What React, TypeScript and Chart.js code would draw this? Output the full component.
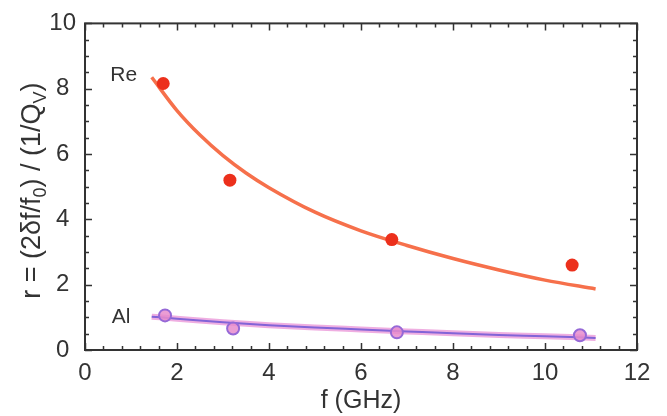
import React, { useEffect, useRef } from "react";
import { Chart, registerables } from "chart.js";
Chart.register(...registerables);

// Measured points
const reFreq = [1.7, 3.15, 6.67, 10.59];
const reRatio = [8.16, 5.2, 3.38, 2.6];
const alFreq = [1.74, 3.22, 6.78, 10.76];
const alRatio = [1.06, 0.66, 0.54, 0.45];

// Fit curves
const reFitFreq = [1.45, 2, 2.5, 3, 3.5, 4, 5, 6, 7, 8, 9, 10, 11.1];
const reFitRatio = [8.35, 7.33, 6.58, 5.95, 5.42, 4.97, 4.22, 3.65, 3.2, 2.8, 2.45, 2.14, 1.87];
const alFitFreq = [1.45, 2, 3, 4, 5, 6, 7, 8, 9, 10, 11.1];
const alFitRatio = [1.02, 0.96, 0.85, 0.76, 0.69, 0.63, 0.57, 0.51, 0.46, 0.42, 0.37];

const xTicks = [0, 2, 4, 6, 8, 10, 12];
const yTicks = [0, 2, 4, 6, 8, 10];
const xMinorStep = 0.4;
const yMinorStep = 0.5;

const seriesLabels = ["Re", "Al"];
const xTitle = "f (GHz)";

const AXIS = "#333";
const FONT = "'Liberation Sans', Arial, sans-serif";

const pts = (xs: number[], ys: number[]) => xs.map((x, i) => ({ x, y: ys[i] }));

const framePlugin = {
  id: "frame",
  afterDraw(chart: any) {
    const { ctx, chartArea: a, scales } = chart;
    const xs = scales.x, ys = scales.y;
    ctx.save();
    ctx.strokeStyle = AXIS;
    ctx.lineWidth = 2;
    ctx.strokeRect(a.left, a.top, a.right - a.left, a.bottom - a.top);
    ctx.lineWidth = 1.5;
    const major = 7, minor = 4;
    for (let v = 0; v <= 12 + 1e-6; v += xMinorStep) {
      const isMajor = xTicks.some((t) => Math.abs(t - v) < 1e-6);
      const L = isMajor ? major : minor;
      const px = Math.round(xs.getPixelForValue(v)) + 0.5;
      ctx.beginPath();
      ctx.moveTo(px, a.bottom);
      ctx.lineTo(px, a.bottom - L);
      ctx.moveTo(px, a.top);
      ctx.lineTo(px, a.top + L);
      ctx.stroke();
    }
    for (let v = 0; v <= 10 + 1e-6; v += yMinorStep) {
      const isMajor = yTicks.some((t) => Math.abs(t - v) < 1e-6);
      const L = isMajor ? major : minor;
      const py = Math.round(ys.getPixelForValue(v)) + 0.5;
      ctx.beginPath();
      ctx.moveTo(a.left, py);
      ctx.lineTo(a.left + L, py);
      ctx.moveTo(a.right, py);
      ctx.lineTo(a.right - L, py);
      ctx.stroke();
    }

    // series labels
    ctx.fillStyle = AXIS;
    ctx.font = `21px ${FONT}`;
    ctx.textBaseline = "middle";
    ctx.textAlign = "left";
    ctx.fillText(seriesLabels[0], xs.getPixelForValue(0.55), ys.getPixelForValue(8.4));
    ctx.fillText(seriesLabels[1], xs.getPixelForValue(0.58), ys.getPixelForValue(1.0));

    // y title with subscripts
    const size = 27;
    const segs: [string, boolean][] = [
      ["r = (2δf/f", false],
      ["0", true],
      [") / (1/Q", false],
      ["V", true],
      [")", false],
    ];
    const mainFont = `${size}px ${FONT}`;
    const subFont = `${Math.round(size * 0.68)}px ${FONT}`;
    let total = 0;
    for (const [t, sub] of segs) {
      ctx.font = sub ? subFont : mainFont;
      total += ctx.measureText(t).width;
    }
    ctx.translate(30, (a.top + a.bottom) / 2 + 4);
    ctx.rotate(-Math.PI / 2);
    ctx.textBaseline = "alphabetic";
    let x = -total / 2;
    const base = size * 0.36;
    for (const [t, sub] of segs) {
      ctx.font = sub ? subFont : mainFont;
      ctx.fillText(t, x, sub ? base + size * 0.25 : base);
      x += ctx.measureText(t).width;
    }
    ctx.restore();
  },
};

export default function App() {
  const ref = useRef<HTMLCanvasElement | null>(null);
  useEffect(() => {
    document.body.style.margin = "0";
    const canvas = ref.current!;
    const chart = new Chart(canvas, {
      type: "scatter",
      data: {
        datasets: [
          {
            label: "Re data",
            data: pts(reFreq, reRatio),
            pointRadius: 6.5,
            pointBackgroundColor: "rgb(236,48,28)",
            pointBorderWidth: 0,
            showLine: false,
          },
          {
            label: "Al data",
            data: pts(alFreq, alRatio),
            pointRadius: 6,
            pointBackgroundColor: "rgba(232,140,205,0.85)",
            pointBorderColor: "rgb(150,105,215)",
            pointBorderWidth: 2,
            showLine: false,
          },
          {
            label: "Re fit",
            data: pts(reFitFreq, reFitRatio),
            showLine: true,
            pointRadius: 0,
            borderColor: "rgb(246,112,75)",
            borderWidth: 3.5,
            cubicInterpolationMode: "monotone",
          },
          {
            label: "Al fit core",
            data: pts(alFitFreq, alFitRatio),
            showLine: true,
            pointRadius: 0,
            borderColor: "rgb(130,100,215)",
            borderWidth: 2,
            cubicInterpolationMode: "monotone",
          },
          {
            label: "Al fit halo",
            data: pts(alFitFreq, alFitRatio),
            showLine: true,
            pointRadius: 0,
            borderColor: "rgba(228,120,205,0.6)",
            borderWidth: 6,
            cubicInterpolationMode: "monotone",
          },
        ],
      },
      options: {
        animation: false,
        responsive: false,
        events: [],
        layout: { padding: { left: 0, top: 19, right: 30, bottom: 0 } },
        plugins: { legend: { display: false }, tooltip: { enabled: false } },
        scales: {
          x: {
            type: "linear",
            min: 0,
            max: 12,
            afterBuildTicks: (s: any) => {
              s.ticks = xTicks.map((v) => ({ value: v }));
            },
            afterFit: (s: any) => {
              s.height = 66;
            },
            grid: { display: false, drawTicks: false },
            border: { display: false },
            ticks: { color: AXIS, font: { family: FONT, size: 24 }, padding: 9, maxRotation: 0 },
            title: {
              display: true,
              text: xTitle,
              color: AXIS,
              font: { family: FONT, size: 25 },
              padding: { top: 0, bottom: 0 },
            },
          },
          y: {
            type: "linear",
            min: 0,
            max: 10,
            afterBuildTicks: (s: any) => {
              s.ticks = yTicks.map((v) => ({ value: v }));
            },
            afterFit: (s: any) => {
              s.width = 85;
            },
            grid: { display: false, drawTicks: false },
            border: { display: false },
            ticks: { color: AXIS, font: { family: FONT, size: 24 }, padding: 9, crossAlign: "center" },
          },
        },
      },
      plugins: [framePlugin],
    } as any);
    return () => chart.destroy();
  }, []);
  return (
    <div style={{ width: 667, height: 416, background: "#fff" }}>
      <canvas ref={ref} width={667} height={416} />
    </div>
  );
}
